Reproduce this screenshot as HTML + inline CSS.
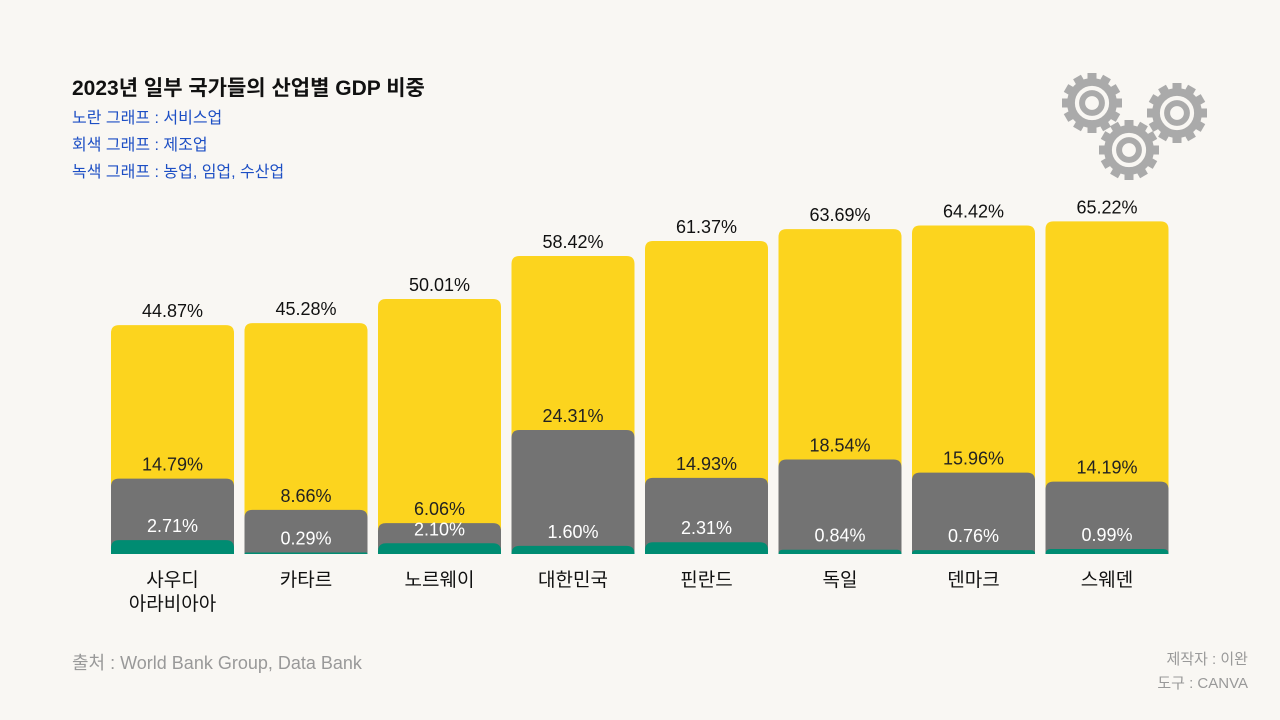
<!DOCTYPE html>
<html><head><meta charset="utf-8"><style>
body{margin:0;width:1280px;height:720px;background:#f9f7f3;font-family:"Liberation Sans","Noto Sans CJK KR",sans-serif;overflow:hidden;position:relative}
.t{position:absolute;white-space:nowrap}
</style></head><body>
<div class="t" style="left:72px;top:72px;font-size:21px;font-weight:bold;color:#111">2023년 일부 국가들의 산업별 GDP 비중</div>
<div class="t" style="left:72px;top:104px;font-size:16px;color:#1d4fc4">노란 그래프 : 서비스업</div>
<div class="t" style="left:72px;top:131px;font-size:16px;color:#1d4fc4">회색 그래프 : 제조업</div>
<div class="t" style="left:72px;top:158px;font-size:16px;color:#1d4fc4">녹색 그래프 : 농업, 임업, 수산업</div>
<div class="t" style="left:72px;top:649px;font-size:18px;color:#999">출처 : World Bank Group, Data Bank</div>
<div class="t" style="right:32px;top:648px;font-size:15px;color:#999;text-align:right;line-height:24px">제작자 : 이완<br>도구 : CANVA</div>
<svg id="chart" width="1280" height="720" style="position:absolute;left:0;top:0"></svg>
<script>
const categories=["사우디\n아라비아아","카타르","노르웨이","대한민국","핀란드","독일","덴마크","스웨덴"];
const services=[44.87,45.28,50.01,58.42,61.37,63.69,64.42,65.22];
const manufacturing=[14.79,8.66,6.06,24.31,14.93,18.54,15.96,14.19];
const agriculture=[2.71,0.29,2.10,1.60,2.31,0.84,0.76,0.99];
const NS="http://www.w3.org/2000/svg";
const svg=document.getElementById('chart');
const base=554,scale=5.1,x0=111,step=133.5,bw=123;
const y=v=>base-v*scale;
const x=i=>x0+i*step;
function mk(tag,attrs,txt){const e=document.createElementNS(NS,tag);for(const k in attrs)e.setAttribute(k,attrs[k]);if(txt!=null)e.textContent=txt;svg.appendChild(e);return e;}
function bar(i,v,col,name){const h=v*scale,r=Math.min(8,h);
const p=mk('path',{d:`M${x(i)},${base}V${y(v)+r}Q${x(i)},${y(v)} ${x(i)+r},${y(v)}H${x(i)+bw-r}Q${x(i)+bw},${y(v)} ${x(i)+bw},${y(v)+r}V${base}Z`,fill:col});

}
function lbl(i,v,txt,col,name){const t=mk('text',{x:x(i)+bw/2,y:y(v)-8,'text-anchor':'middle','font-size':18,fill:col},txt);

}
categories.forEach((c,i)=>{
bar(i,services[i],'#fcd41e','bar-services');
bar(i,manufacturing[i],'#737373','bar-manufacturing');
bar(i,agriculture[i],'#008c72','bar-agriculture');
lbl(i,services[i],services[i].toFixed(2)+'%','#111','label-services');
lbl(i,manufacturing[i],manufacturing[i].toFixed(2)+'%','#222','label-manufacturing');
lbl(i,agriculture[i],agriculture[i].toFixed(2)+'%','#fff','label-agriculture');
c.split('\n').forEach((ln,j)=>{const t=mk('text',{x:x(i)+bw/2,y:586+j*24,'text-anchor':'middle','font-size':19,fill:'#111'},ln);

});
});
function gear(cx,cy,r){const g=mk('g',{fill:'none'});


for(let k=0;k<12;k++){const a=k*30;const rc=document.createElementNS(NS,'rect');
rc.setAttribute('x',cx-4.5);rc.setAttribute('y',cy-r);rc.setAttribute('width',9);rc.setAttribute('height',10);rc.setAttribute('fill','#aaa');
rc.setAttribute('transform',`rotate(${a} ${cx} ${cy})`);g.appendChild(rc);}
const c1=document.createElementNS(NS,'circle');c1.setAttribute('cx',cx);c1.setAttribute('cy',cy);c1.setAttribute('r',r*0.7);c1.setAttribute('fill','none');c1.setAttribute('stroke','#aaa');c1.setAttribute('stroke-width',r*0.26);g.appendChild(c1);
const c2=document.createElementNS(NS,'circle');c2.setAttribute('cx',cx);c2.setAttribute('cy',cy);c2.setAttribute('r',r*0.33);c2.setAttribute('fill','none');c2.setAttribute('stroke','#aaa');c2.setAttribute('stroke-width',r*0.2);g.appendChild(c2);}
gear(1092,103,30);gear(1177,113,30);gear(1129,150,30);
</script>
</body></html>
